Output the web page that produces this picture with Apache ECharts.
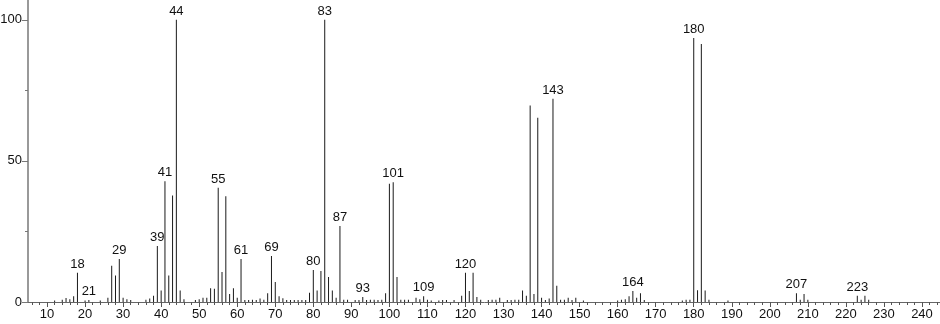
<!DOCTYPE html>
<html>
<head>
<meta charset="utf-8">
<script src="https://cdn.jsdelivr.net/npm/echarts@6/dist/echarts.min.js"></script>
<style>html,body{margin:0;padding:0;background:#fff}#c{width:940px;height:324px}</style>
</head>
<body>
<div id="c"></div>
<script>
// m/z values and relative intensities
const masses = [12,14,15,16,17,18,20,21,24,26,27,28,29,30,31,32,36,37,38,39,40,41,42,43,44,45,46,49,50,51,52,53,54,55,56,57,58,59,60,61,62,63,64,65,66,67,68,69,70,71,72,73,74,75,76,77,78,79,80,81,82,83,84,85,86,87,88,89,91,92,93,94,95,96,97,98,99,100,101,102,103,104,105,107,108,109,110,111,113,114,115,117,119,120,121,122,123,124,126,127,128,129,131,132,133,134,135,136,137,138,139,140,141,142,143,144,145,146,147,148,149,151,160,161,162,163,164,165,166,167,177,178,179,180,181,182,183,184,189,207,208,209,210,223,224,225,226];
const intensities = [0.5,0.8,1.4,1.0,2.0,10.4,0.5,0.7,0.5,1.5,12.8,9.4,15.2,1.5,1.0,0.7,0.8,1.2,2.2,19.8,4.1,42.8,9.4,37.7,100,4.1,1.0,0.7,1.0,1.5,1.5,4.9,4.7,40.5,10.6,37.5,2.8,4.9,1.5,15.2,0.7,0.7,0.8,0.7,1.2,0.8,3.1,16.3,7.1,2.0,1.3,0.7,0.7,0.7,0.7,0.7,0.7,3.3,11.3,4.1,11.0,100,8.9,4.1,1.5,26.9,0.8,0.8,0.7,0.7,1.8,0.7,0.8,0.8,0.7,0.8,3.1,41.9,42.4,8.9,0.8,0.8,0.8,1.5,1.0,2.0,0.8,0.5,0.5,0.7,0.7,0.7,2.2,10.4,3.9,10.4,1.8,0.8,0.7,0.8,0.8,1.5,0.7,0.7,0.8,0.8,4.1,2.2,69.6,2.8,65.3,1.5,0.7,1.2,72.0,5.8,0.8,0.8,1.5,0.7,1.5,0.5,0.5,0.8,1.0,2.0,3.9,1.5,3.1,0.7,0.5,0.8,0.8,93.5,4.2,91.4,4.1,0.8,0.5,3.1,0.8,2.8,0.8,2.2,0.8,2.2,0.8];
const labelledMasses = [18,21,29,39,41,44,55,61,69,80,83,87,93,101,109,120,143,164,180,207,223];
const xLabelTicks = [10,20,30,40,50,60,70,80,90,100,110,120,130,140,150,160,170,180,190,200,210,220,230,240];
const xMinorTicks = [];
for (let v = 6; v <= 244; v += 2) xMinorTicks.push(v);
const yLabelTicks = [0,50,100];
const yMinorTicks = [25,75];

const data = masses.map((m, i) => {
  const item = { value: [m, intensities[i]] };
  if (labelledMasses.includes(m)) item.label = { show: true };
  return item;
});

const FONT = '"Liberation Sans", Arial, sans-serif';
const chart = echarts.init(document.getElementById('c'), null, { renderer: 'canvas' });
chart.setOption({
  animation: false,
  grid: { left: 28, top: 0, width: 913, bottom: 22, containLabel: false, outerBoundsMode: 'none' },
  xAxis: [{
    type: 'value', min: 5, max: 245, position: 'bottom',
    axisLine: { show: true, lineStyle: { color: '#666', width: 1 } },
    axisTick: { show: true, customValues: xLabelTicks, length: 5, lineStyle: { color: '#555' } },
    axisLabel: { show: true, customValues: xLabelTicks, margin: 6, color: '#111', fontSize: 13, fontFamily: FONT },
    splitLine: { show: false }
  }, {
    type: 'value', min: 5, max: 245, position: 'bottom', gridIndex: 0,
    axisLine: { show: false },
    axisTick: { show: true, customValues: xMinorTicks, length: 3, lineStyle: { color: '#555' } },
    axisLabel: { show: false },
    splitLine: { show: false }
  }],
  yAxis: [{
    type: 'value', min: 0, max: 107, position: 'left',
    axisLine: { show: true, lineStyle: { color: '#999', width: 2 } },
    axisTick: { show: true, customValues: yLabelTicks, length: 6, lineStyle: { color: '#777' } },
    axisLabel: { show: true, customValues: yLabelTicks, margin: 6, color: '#111', fontSize: 13, fontFamily: FONT },
    splitLine: { show: false }
  }, {
    type: 'value', min: 0, max: 107, position: 'left',
    axisLine: { show: false },
    axisTick: { show: true, customValues: yMinorTicks, length: 3, lineStyle: { color: '#777' } },
    axisLabel: { show: false },
    splitLine: { show: false }
  }],
  series: [{
    type: 'bar',
    xAxisIndex: 0, yAxisIndex: 0,
    barWidth: 1,
    itemStyle: { color: '#1a1a1a' },
    label: {
      show: false, position: 'top', distance: 2,
      color: '#111', fontSize: 13, fontFamily: FONT,
      formatter: p => String(p.value[0])
    },
    data: data
  }]
});
</script>
</body>
</html>
